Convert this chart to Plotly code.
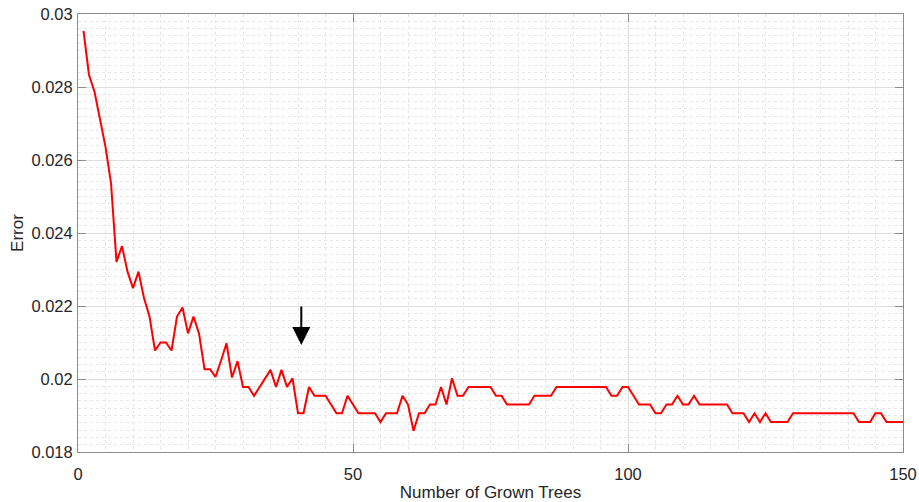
import plotly.graph_objects as go

# Number of grown trees (x) and error (y)
trees = list(range(1, 151))
error = [
    0.02954, 0.02833, 0.02787, 0.02710, 0.02636, 0.02537, 0.02321, 0.02364, 0.02294, 0.02249,
    0.02294, 0.02222, 0.02171, 0.02078, 0.02100, 0.02100, 0.02078, 0.02171, 0.02196, 0.02125,
    0.02171, 0.02125, 0.02027, 0.02027, 0.02006, 0.02050, 0.02098, 0.02004, 0.02049, 0.01978,
    0.01978, 0.01954, 0.01978, 0.02002, 0.02025, 0.01978, 0.02025, 0.01978, 0.02002, 0.01906,
    0.01906, 0.01978, 0.01954, 0.01954, 0.01954, 0.01930, 0.01906, 0.01906, 0.01954, 0.01930,
    0.01906, 0.01906, 0.01906, 0.01906, 0.01882, 0.01906, 0.01906, 0.01906, 0.01954, 0.01930,
    0.01858, 0.01906, 0.01906, 0.01930, 0.01930, 0.01978, 0.01930, 0.02002, 0.01954, 0.01954,
    0.01978, 0.01978, 0.01978, 0.01978, 0.01978, 0.01954, 0.01954, 0.01930, 0.01930, 0.01930,
    0.01930, 0.01930, 0.01954, 0.01954, 0.01954, 0.01954, 0.01978, 0.01978, 0.01978, 0.01978,
    0.01978, 0.01978, 0.01978, 0.01978, 0.01978, 0.01978, 0.01954, 0.01954, 0.01978, 0.01978,
    0.01954, 0.01930, 0.01930, 0.01930, 0.01906, 0.01906, 0.01930, 0.01930, 0.01954, 0.01930,
    0.01930, 0.01954, 0.01930, 0.01930, 0.01930, 0.01930, 0.01930, 0.01930, 0.01906, 0.01906,
    0.01906, 0.01882, 0.01906, 0.01882, 0.01906, 0.01882, 0.01882, 0.01882, 0.01882, 0.01906,
    0.01906, 0.01906, 0.01906, 0.01906, 0.01906, 0.01906, 0.01906, 0.01906, 0.01906, 0.01906,
    0.01906, 0.01882, 0.01882, 0.01882, 0.01906, 0.01906, 0.01882, 0.01882, 0.01882, 0.01882,
]

x_ticks = [0, 50, 100, 150]
x_tick_labels = ["0", "50", "100", "150"]
y_ticks = [0.018, 0.020, 0.022, 0.024, 0.026, 0.028, 0.030]
y_tick_labels = ["0.018", "0.02", "0.022", "0.024", "0.026", "0.028", "0.03"]

arrow_x = 40.6
arrow_tip = 0.02093
arrow_tail = 0.02203

font_family = "Liberation Sans, Arial, sans-serif"
axis_color = "#8c8c8c"
text_color = "#262626"

fig = go.Figure()
fig.add_trace(go.Scatter(
    x=trees, y=error, mode="lines",
    line=dict(color="#ff0000", width=2),
    showlegend=False, hoverinfo="x+y",
))

fig.add_annotation(
    x=arrow_x, y=arrow_tip, ax=arrow_x, ay=arrow_tail,
    xref="x", yref="y", axref="x", ayref="y",
    showarrow=True, arrowhead=2, arrowsize=1.8, arrowwidth=2,
    arrowcolor="#000000", text="",
)

common_axis = dict(
    showline=True, linecolor=axis_color, linewidth=1, mirror="ticks",
    ticks="inside", ticklen=8, tickcolor=axis_color, tickwidth=1,
    showgrid=True, gridcolor="#dedede", gridwidth=1,
    zeroline=False, automargin=False, ticklabeloverflow="allow",
    tickfont=dict(family=font_family, size=16.5, color=text_color),
)

fig.update_xaxes(
    **common_axis,
    range=[0, 150], tickvals=x_ticks, ticktext=x_tick_labels,
    ticklabelstandoff=7,
    minor=dict(dtick=5, showgrid=True, gridcolor="#e6e6e6", griddash="dot", ticks=""),
    title=dict(text="Number of Grown Trees", standoff=11,
               font=dict(family=font_family, size=17, color=text_color)),
)
fig.update_yaxes(
    **common_axis,
    range=[0.018, 0.030], tickvals=y_ticks, ticktext=y_tick_labels,
    ticklabelstandoff=1,
    minor=dict(dtick=0.0002, showgrid=True, gridcolor="#e6e6e6", griddash="dot", ticks=""),
    title=dict(text="Error", standoff=3,
               font=dict(family=font_family, size=17, color=text_color)),
)

fig.update_layout(
    width=919, height=502,
    margin=dict(l=78, r=16, t=14, b=50),
    paper_bgcolor="#ffffff", plot_bgcolor="#ffffff",
)

# Remove the default 8 px page margin so the figure fills the window exactly.
fig.write_html(
    "out.html",
    config={"displayModeBar": False},
    post_script="document.body.style.margin='0';document.body.style.overflow='hidden';",
)
